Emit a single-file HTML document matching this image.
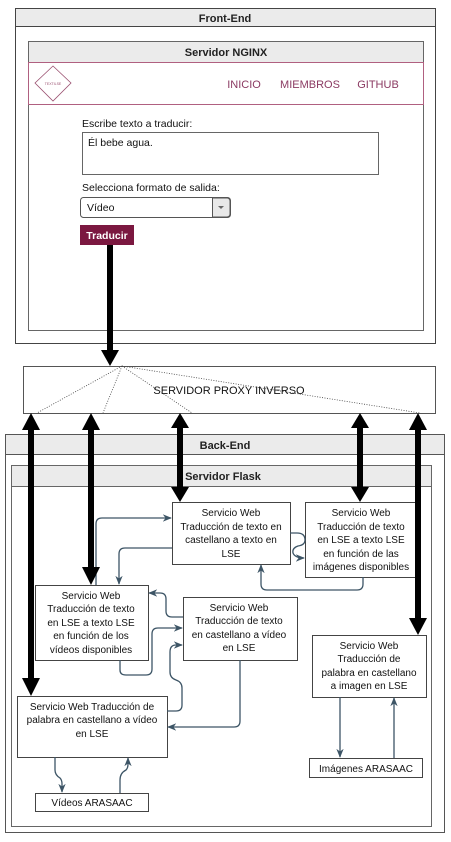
<!DOCTYPE html>
<html><head><meta charset="utf-8"><style>
body{margin:0;width:451px;height:837px;background:#fff;overflow:hidden;font-family:"Liberation Sans",Arial,sans-serif}
svg text{font-family:"Liberation Sans",Arial,sans-serif}
</style></head><body>
<svg width="451" height="837" viewBox="0 0 451 837" xmlns="http://www.w3.org/2000/svg">
<defs>
<marker id="a" viewBox="0 0 10 10" refX="9" refY="5" markerWidth="7" markerHeight="7" orient="auto"><path d="M0,1 L10,5 L0,9 L3,5z" fill="#3d5566"/></marker>
</defs>
<!-- Front-End -->
<rect x="15.5" y="8.5" width="420" height="335" fill="#fff" stroke="#444"/>
<rect x="15.5" y="8.5" width="420" height="18" fill="#ebebeb" stroke="#444"/>
<text x="225" y="22" font-size="11" font-weight="bold" text-anchor="middle" fill="#222">Front-End</text>
<rect x="28.5" y="41.5" width="395" height="289" fill="#fff" stroke="#666"/>
<rect x="28.5" y="41.5" width="395" height="21" fill="#ebebeb" stroke="#666"/>
<text x="226" y="56" font-size="11" font-weight="bold" text-anchor="middle" fill="#222">Servidor NGINX</text>
<rect x="28.5" y="62.5" width="395" height="42" fill="#fff" stroke="#b06080"/>
<path d="M53,66 L71,83 L53,101 L35,83Z" fill="#fff" stroke="#9a5070" stroke-width="0.8"/>
<text x="53" y="85" font-size="3.5" text-anchor="middle" fill="#9a5070">TEXTILSE</text>
<text x="244" y="88" font-size="11" text-anchor="middle" fill="#8b3a62">INICIO</text>
<text x="310" y="88" font-size="11" text-anchor="middle" fill="#8b3a62">MIEMBROS</text>
<text x="378" y="88" font-size="11" text-anchor="middle" fill="#8b3a62">GITHUB</text>
<text x="82" y="127" font-size="10.5" fill="#111">Escribe texto a traducir:</text>
<rect x="82.5" y="132.5" width="296" height="42" fill="#fff" stroke="#666"/>
<text x="88" y="146" font-size="10.5" fill="#111">Él bebe agua.</text>
<text x="82" y="191" font-size="10.5" fill="#111">Selecciona formato de salida:</text>
<rect x="80.5" y="197.5" width="150" height="20" rx="3" fill="#fff" stroke="#555"/>
<path d="M212.5,198 V217 H227 a3,3 0 0 0 3,-3 V201 a3,3 0 0 0 -3,-3z" fill="#e8e8e8" stroke="#555"/>
<path d="M218,206 L224,206 L221,209z" fill="#666"/>
<text x="87" y="211" font-size="10.5" fill="#111">Vídeo</text>
<rect x="80" y="225" width="54" height="20" fill="#7b1840"/>
<text x="107" y="239" font-size="10.5" font-weight="bold" text-anchor="middle" fill="#fff">Traducir</text>
<!-- main thick arrow -->
<line x1="110" y1="245" x2="110" y2="352" stroke="#000" stroke-width="6"/>
<path d="M101,350 L119,350 L110,366z" fill="#000"/>
<!-- Proxy -->
<rect x="23.5" y="366.5" width="412" height="47" fill="#fff" stroke="#555"/>
<text x="229" y="394" font-size="11" text-anchor="middle" fill="#111">SERVIDOR PROXY INVERSO</text>
<g stroke="#444" stroke-width="0.8" stroke-dasharray="1,1.5" fill="none">
<line x1="122" y1="366" x2="37" y2="413"/><line x1="122" y1="366" x2="103" y2="413"/>
<line x1="122" y1="366" x2="192" y2="413"/><line x1="122" y1="366" x2="420" y2="413"/>
</g>
<!-- Back-End -->
<rect x="5.5" y="434.5" width="439" height="398" fill="#fff" stroke="#555"/>
<rect x="5.5" y="434.5" width="439" height="20" fill="#ebebeb" stroke="#555"/>
<text x="225" y="449" font-size="11" font-weight="bold" text-anchor="middle" fill="#222">Back-End</text>
<rect x="11.5" y="465.5" width="420" height="361" fill="#fff" stroke="#666"/>
<rect x="11.5" y="465.5" width="420" height="21" fill="#ebebeb" stroke="#666"/>
<text x="223" y="480" font-size="11" font-weight="bold" text-anchor="middle" fill="#222">Servidor Flask</text>
<!-- boxes -->
<g fill="#fff" stroke="#444">
<rect x="172.5" y="502.5" width="118" height="62"/>
<rect x="305.5" y="502.5" width="110" height="75"/>
<rect x="35.5" y="585.5" width="113" height="75"/>
<rect x="183.5" y="597.5" width="114" height="63"/>
<rect x="17.5" y="696.5" width="150" height="61"/>
<rect x="312.5" y="635.5" width="114" height="62"/>
<rect x="35.5" y="793.5" width="113" height="18"/>
<rect x="309.5" y="758.5" width="113" height="19"/>
</g>
<g font-size="10" text-anchor="middle" fill="#111">
<text x="231" y="516">Servicio Web</text><text x="231" y="530">Traducción de texto en</text><text x="231" y="543">castellano a texto en</text><text x="231" y="557">LSE</text>
<text x="361" y="516">Servicio Web</text><text x="361" y="530">Traducción de texto</text><text x="361" y="543">en LSE a texto LSE</text><text x="361" y="557">en función de las</text><text x="361" y="570">imágenes disponibles</text>
<text x="91" y="599">Servicio Web</text><text x="91" y="612">Traducción de texto</text><text x="91" y="626">en LSE a texto LSE</text><text x="91" y="639">en función de los</text><text x="91" y="653">vídeos disponibles</text>
<text x="239" y="611">Servicio Web</text><text x="239" y="624">Traducción de texto</text><text x="239" y="638">en castellano a vídeo</text><text x="239" y="651">en LSE</text>
<text x="92" y="710">Servicio Web Traducción de</text><text x="92" y="723">palabra en castellano a vídeo</text><text x="92" y="737">en LSE</text>
<text x="369" y="649">Servicio Web</text><text x="369" y="662">Traducción de</text><text x="369" y="676">palabra en castellano</text><text x="369" y="689">a imagen en LSE</text>
<text x="92" y="806">Vídeos ARASAAC</text>
<text x="366" y="772">Imágenes ARASAAC</text>
</g>
<!-- thin connectors -->
<g stroke="#3d5566" stroke-width="1.3" fill="none" marker-end="url(#a)">
<path d="M96,585 V524 Q96,518 102,518 H171"/>
<path d="M172,548 H125 Q119,548 119,554 V584"/>
<path d="M290,533 H297 Q305,533 305,540 Q305,545 298,546 Q292,548 293,553 Q295,558 304,558"/>
<path d="M363,577 V584 Q363,590 357,590 H267 Q261,590 261,584 V565"/>
<path d="M183,617 H172 Q166,617 166,611 V599 Q166,593 160,593 H149"/>
<path d="M120,660 V670 Q120,675 126,675 H146 Q152,675 152,669 V634 Q152,628 158,628 H182"/>
<path d="M167,711 H176 Q182,711 182,705 V688 Q182,682 176,680 Q170,678 170,672 V652 Q170,645 176,645 H182"/>
<path d="M240,660 V721 Q240,727 234,727 H168"/>
<path d="M55,757 V770 Q55,775 60,778 Q62,780 62,784 V792"/>
<path d="M120,793 V780 Q120,773 126,770 Q128,768 128,764 V758"/>
<path d="M340,697 V757"/>
<path d="M394,758 V698"/>
</g>
<!-- thick double arrows -->
<g stroke="#000" stroke-width="6">
<line x1="31" y1="426" x2="31" y2="682"/>
<line x1="91" y1="426" x2="91" y2="570"/>
<line x1="180" y1="426" x2="180" y2="489"/>
<line x1="360" y1="426" x2="360" y2="487"/>
<line x1="418" y1="426" x2="418" y2="622"/>
</g>
<g fill="#000">
<path d="M22,430 L31,413 L40,430z"/><path d="M22,678 L31,696 L40,678z"/>
<path d="M82,430 L91,413 L100,430z"/><path d="M82,567 L91,585 L100,567z"/>
<path d="M171,428 L180,413 L189,428z"/><path d="M171,487 L180,502 L189,487z"/>
<path d="M351,428 L360,413 L369,428z"/><path d="M351,487 L360,502 L369,487z"/>
<path d="M409,430 L418,413 L427,430z"/><path d="M409,618 L418,635 L427,618z"/>
</g>
</svg>
</body></html>
